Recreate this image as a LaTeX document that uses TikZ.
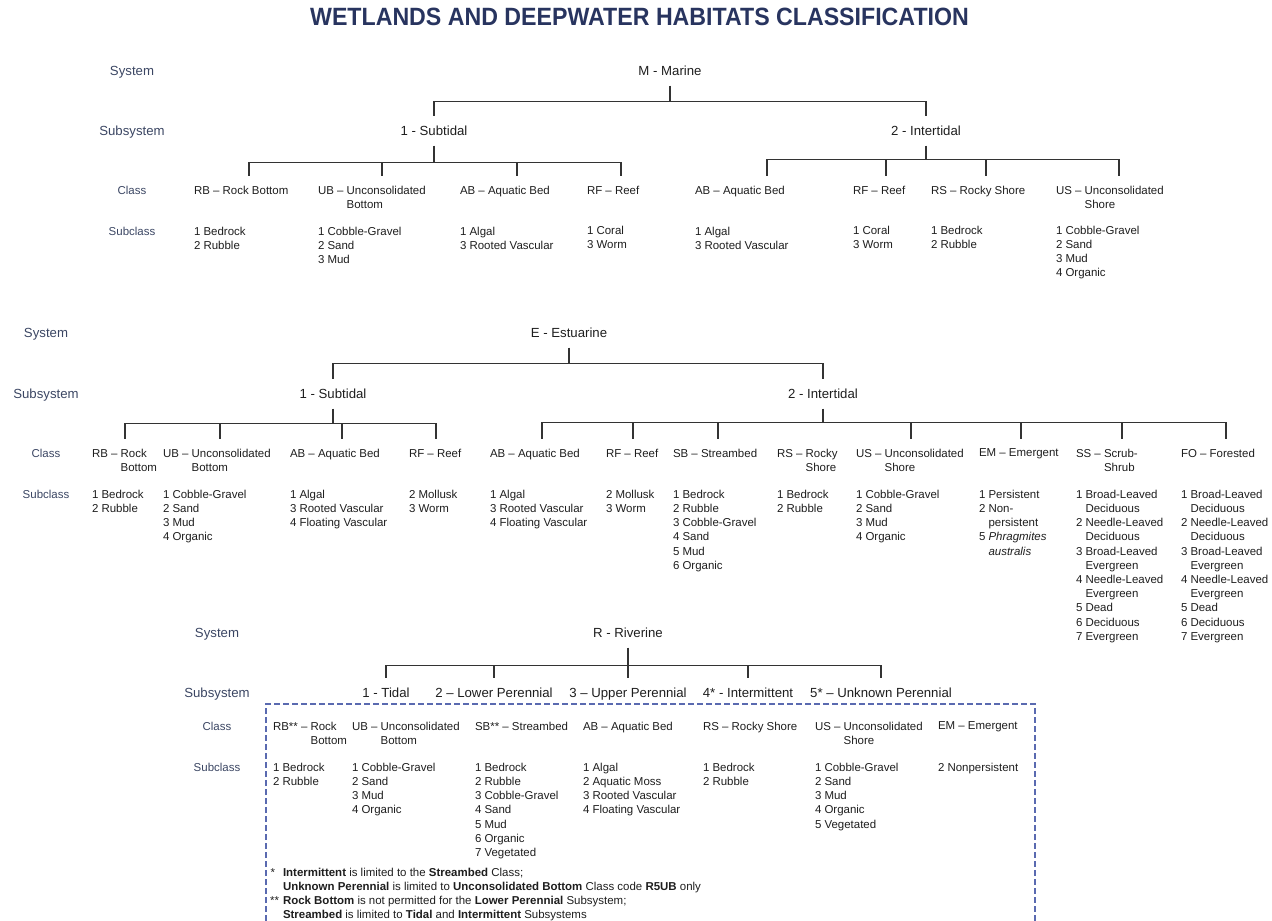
\documentclass[tikz,border=0pt]{standalone}
\usepackage{fontspec}
\setmainfont{Liberation Sans}
\definecolor{titleblue}{HTML}{28345F}
\definecolor{lvlgray}{HTML}{3B4663}
\definecolor{boxblue}{HTML}{5A6AB0}
\definecolor{ink}{HTML}{1E1E1E}
\newcommand{\bodyfont}{\fontsize{8.6pt}{10.65pt}\selectfont}
\newcommand{\headfont}{\fontsize{9.9pt}{12pt}\selectfont}

\begin{document}
\begin{tikzpicture}[x=0.75pt,y=-0.75pt,
  head/.style={font=\headfont,text=ink,inner sep=0pt,outer xsep=0pt,outer ysep=7.5pt,text height=7.1pt,text depth=0pt},
  lvl/.style={font=\headfont,text=lvlgray,inner sep=0pt,text height=7.1pt,text depth=0pt},
  lvlsmall/.style={lvl,font=\bodyfont,text height=6.2pt},
  cls/.style={font=\bodyfont,text=ink,align=left,anchor=north west,inner sep=0pt,outer xsep=0pt,outer ysep=7.5pt},
  sub/.style={font=\bodyfont,text=ink,align=left,anchor=north west,inner sep=0pt,outer sep=0pt},
  branch/.style={draw=black!80,line width=0.9pt}]
\useasboundingbox (0,0) rectangle (1272,921);

\node[font=\fontsize{18.75pt}{20pt}\selectfont\bfseries,text=titleblue,inner sep=0pt,text height=13.4pt,text depth=0pt] (title) at (639.5,17) {\scalebox{0.927}[1]{WETLANDS AND DEEPWATER HABITATS CLASSIFICATION}};

%marine
\node[lvl] (msys) at (132,71) {System};
\node[lvl] (msubsys) at (132,131) {Subsystem};
\node[lvlsmall] (mcls) at (132,190) {Class};
\node[lvlsmall] (msubcls) at (132,231) {Subclass};

\node[head] (mar) at (670,71) {M - Marine};
\node[head] (mst) at (434,131) {1 - Subtidal};
\node[head] (mit) at (926,131) {2 - Intertidal};

\node[cls] (mstrb) at (194,176) {RB -- Rock Bottom};
\node[cls] (mstub) at (318,176) {UB -- Unconsolidated\\\phantom{UB -- }Bottom};
\node[cls] (mstab) at (460,176) {AB -- Aquatic Bed};
\node[cls] (mstrf) at (587,176) {RF -- Reef};
\node[cls] (mitab) at (695,176) {AB -- Aquatic Bed};
\node[cls] (mitrf) at (853,176) {RF -- Reef};
\node[cls] (mitrs) at (931,176) {RS -- Rocky Shore};
\node[cls] (mitus) at (1056,176) {US -- Unconsolidated\\\phantom{US -- }Shore};

\node[sub] (mstrb-s) at (194,227) {1 Bedrock\\2 Rubble};
\node[sub] (mstub-s) at (318,227) {1 Cobble-Gravel\\2 Sand\\3 Mud};
\node[sub] (mstab-s) at (460,227) {1 Algal\\3 Rooted Vascular};
\node[sub] (mstrf-s) at (587,226) {1 Coral\\3 Worm};
\node[sub] (mitab-s) at (695,227) {1 Algal\\3 Rooted Vascular};
\node[sub] (mitrf-s) at (853,226) {1 Coral\\3 Worm};
\node[sub] (mitrs-s) at (931,226) {1 Bedrock\\2 Rubble};
\node[sub] (mitus-s) at (1056,226) {1 Cobble-Gravel\\2 Sand\\3 Mud\\4 Organic};

\draw[branch] (mar.south) -- ++(0,16) coordinate (mj);
\draw[branch] (mj) -| (mst.north);
\draw[branch] (mj) -| (mit.north);
\draw[branch] (mst.south) -- ++(0,17) coordinate (mstj);
\draw[branch] (mstj) -| ([shift={(55,0)}]mstrb.north west);
\draw[branch] (mstj) -| ([shift={(64,0)}]mstub.north west);
\draw[branch] (mstj) -| ([shift={(57,0)}]mstab.north west);
\draw[branch] (mstj) -| ([shift={(34,0)}]mstrf.north west);
\draw[branch] (mit.south) -- ++(0,14) coordinate (mitj);
\draw[branch] (mitj) -| ([shift={(72,0)}]mitab.north west);
\draw[branch] (mitj) -| ([shift={(33,0)}]mitrf.north west);
\draw[branch] (mitj) -| ([shift={(55,0)}]mitrs.north west);
\draw[branch] (mitj) -| ([shift={(63,0)}]mitus.north west);

%estuarine
\node[lvl] (esys) at (46,333) {System};
\node[lvl] (esubsys) at (46,394) {Subsystem};
\node[lvlsmall] (ecls) at (46,453) {Class};
\node[lvlsmall] (esubcls) at (46,494) {Subclass};

\node[head] (est) at (569,333) {E - Estuarine};
\node[head] (est1) at (333,394) {1 - Subtidal};
\node[head] (est2) at (823,394) {2 - Intertidal};

\node[cls] (erb) at (92,439) {RB -- Rock\\\phantom{RB -- }Bottom};
\node[cls] (eub) at (163,439) {UB -- Unconsolidated\\\phantom{UB -- }Bottom};
\node[cls] (eab) at (290,439) {AB -- Aquatic Bed};
\node[cls] (erf) at (409,439) {RF -- Reef};
\node[cls] (iab) at (490,439) {AB -- Aquatic Bed};
\node[cls] (irf) at (606,439) {RF -- Reef};
\node[cls] (isb) at (673,439) {SB -- Streambed};
\node[cls] (irs) at (777,439) {RS -- Rocky\\\phantom{RS -- }Shore};
\node[cls] (ius) at (856,439) {US -- Unconsolidated\\\phantom{US -- }Shore};
\node[cls] (iem) at (979,439) {EM -- Emergent};
\node[cls] (iss) at (1076,439) {SS -- Scrub-\\\phantom{SS -- }Shrub};
\node[cls] (ifo) at (1181,439) {FO -- Forested};

\node[sub] (erb-s) at (92,490) {1 Bedrock\\2 Rubble};
\node[sub] (eub-s) at (163,490) {1 Cobble-Gravel\\2 Sand\\3 Mud\\4 Organic};
\node[sub] (eab-s) at (290,490) {1 Algal\\3 Rooted Vascular\\4 Floating Vascular};
\node[sub] (erf-s) at (409,490) {2 Mollusk\\3 Worm};
\node[sub] (iab-s) at (490,490) {1 Algal\\3 Rooted Vascular\\4 Floating Vascular};
\node[sub] (irf-s) at (606,490) {2 Mollusk\\3 Worm};
\node[sub] (isb-s) at (673,490) {1 Bedrock\\2 Rubble\\3 Cobble-Gravel\\4 Sand\\5 Mud\\6 Organic};
\node[sub] (irs-s) at (777,490) {1 Bedrock\\2 Rubble};
\node[sub] (ius-s) at (856,490) {1 Cobble-Gravel\\2 Sand\\3 Mud\\4 Organic};
\node[sub] (iem-s) at (979,490) {1 Persistent\\2 Non-\\\phantom{2 }persistent\\5 \textit{Phragmites}\\\phantom{5 }\textit{australis}};
\node[sub] (iss-s) at (1076,490) {1 Broad-Leaved\\\phantom{1 }Deciduous\\2 Needle-Leaved\\\phantom{2 }Deciduous\\3 Broad-Leaved\\\phantom{3 }Evergreen\\4 Needle-Leaved\\\phantom{4 }Evergreen\\5 Dead\\6 Deciduous\\7 Evergreen};
\node[sub] (ifo-s) at (1181,490) {1 Broad-Leaved\\\phantom{1 }Deciduous\\2 Needle-Leaved\\\phantom{2 }Deciduous\\3 Broad-Leaved\\\phantom{3 }Evergreen\\4 Needle-Leaved\\\phantom{4 }Evergreen\\5 Dead\\6 Deciduous\\7 Evergreen};

\draw[branch] (est.south) -- ++(0,16) coordinate (ej);
\draw[branch] (ej) -| (est1.north);
\draw[branch] (ej) -| (est2.north);
\draw[branch] (est1.south) -- ++(0,15) coordinate (e1j);
\draw[branch] (e1j) -| ([shift={(33,0)}]erb.north west);
\draw[branch] (e1j) -| ([shift={(57,0)}]eub.north west);
\draw[branch] (e1j) -| ([shift={(52,0)}]eab.north west);
\draw[branch] (e1j) -| ([shift={(27,0)}]erf.north west);
\draw[branch] (est2.south) -- ++(0,14) coordinate (e2j);
\draw[branch] (e2j) -| ([shift={(52,0)}]iab.north west);
\draw[branch] (e2j) -| ([shift={(27,0)}]irf.north west);
\draw[branch] (e2j) -| ([shift={(45,0)}]isb.north west);
\draw[branch] (e2j) -| ([shift={(55,0)}]ius.north west);
\draw[branch] (e2j) -| ([shift={(42,0)}]iem.north west);
\draw[branch] (e2j) -| ([shift={(46,0)}]iss.north west);
\draw[branch] (e2j) -| ([shift={(45,0)}]ifo.north west);

%riverine
\node[lvl] (rsys) at (217,633) {System};
\node[lvl] (rsubsys) at (217,693) {Subsystem};
\node[lvlsmall] (rcls) at (217,726) {Class};
\node[lvlsmall] (rsubcls) at (217,767) {Subclass};

\node[head] (riv) at (628,633) {R - Riverine};
\node[head] (rt) at (386,693) {1 - Tidal};
\node[head] (rlp) at (494,693) {2 -- Lower Perennial};
\node[head] (rup) at (628,693) {3 -- Upper Perennial};
\node[head] (rin) at (748,693) {4* - Intermittent};
\node[head] (run) at (881,693) {5* -- Unknown Perennial};

\draw[branch] (riv.south) -- ++(0,18) coordinate (rj);
\draw[branch] (rj) -| (rt.north);
\draw[branch] (rj) -| (rlp.north);
\draw[branch] (rj) -| (rup.north);
\draw[branch] (rj) -| (rin.north);
\draw[branch] (rj) -| (run.north);

\draw[boxblue,line width=0.8pt,dash pattern=on 4.5pt off 2.25pt] (266,921) -- (266,704) -- (1035,704) -- (1035,921); %box

\node[cls] (rrb) at (273,712) {RB** -- Rock\\\phantom{RB** -- }Bottom};
\node[cls] (rub) at (352,712) {UB -- Unconsolidated\\\phantom{UB -- }Bottom};
\node[cls] (rsb) at (475,712) {SB** -- Streambed};
\node[cls] (rab) at (583,712) {AB -- Aquatic Bed};
\node[cls] (rrs) at (703,712) {RS -- Rocky Shore};
\node[cls] (rus) at (815,712) {US -- Unconsolidated\\\phantom{US -- }Shore};
\node[cls] (rem) at (938,712) {EM -- Emergent};

\node[sub] (rrb-s) at (273,763) {1 Bedrock\\2 Rubble};
\node[sub] (rub-s) at (352,763) {1 Cobble-Gravel\\2 Sand\\3 Mud\\4 Organic};
\node[sub] (rsb-s) at (475,763) {1 Bedrock\\2 Rubble\\3 Cobble-Gravel\\4 Sand\\5 Mud\\6 Organic\\7 Vegetated};
\node[sub] (rab-s) at (583,763) {1 Algal\\2 Aquatic Moss\\3 Rooted Vascular\\4 Floating Vascular};
\node[sub] (rrs-s) at (703,763) {1 Bedrock\\2 Rubble};
\node[sub] (rus-s) at (815,763) {1 Cobble-Gravel\\2 Sand\\3 Mud\\4 Organic\\5 Vegetated};
\node[sub] (rem-s) at (938,763) {2 Nonpersistent};

\node[sub] (rnote) at (283,868) {\llap{*\hspace{6pt}}\textbf{Intermittent} is limited to the \textbf{Streambed} Class;\\
\textbf{Unknown Perennial} is limited to \textbf{Unconsolidated Bottom} Class code \textbf{R5UB} only\\
\llap{**\hspace{3pt}}\textbf{Rock Bottom} is not permitted for the \textbf{Lower Perennial} Subsystem;\\
\textbf{Streambed} is limited to \textbf{Tidal} and \textbf{Intermittent} Subsystems};

\end{tikzpicture}
\end{document}
